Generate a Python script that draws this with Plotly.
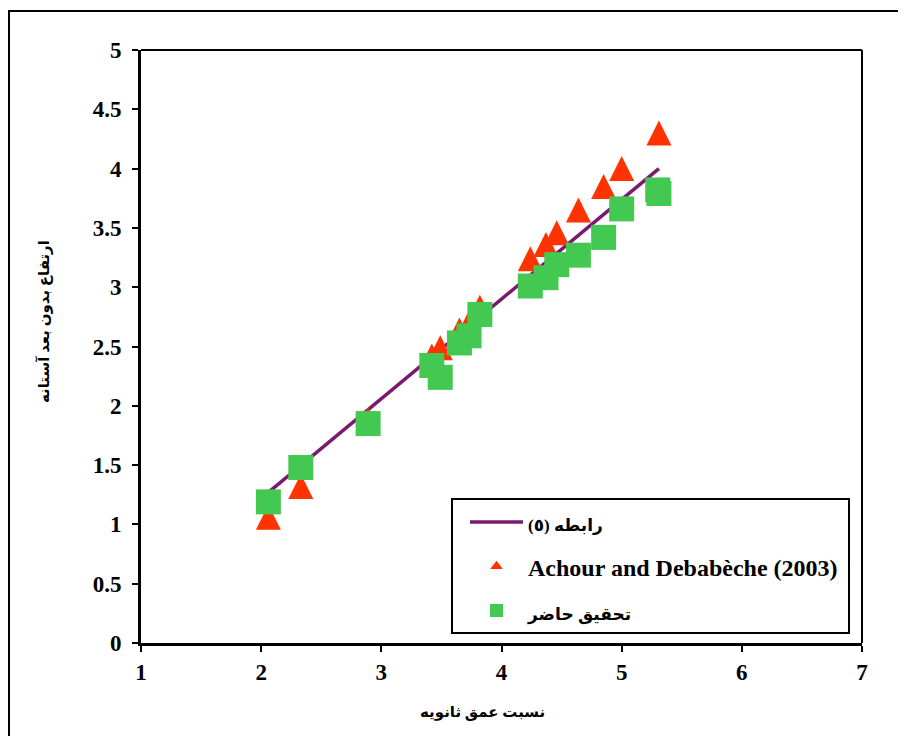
import plotly.graph_objects as go

# ---- data ----
rel_x = [2.06, 5.31]
rel_y = [1.27, 4.00]

achour_x = [2.06, 2.33, 2.89, 3.42, 3.49, 3.65, 3.73, 3.82, 4.24, 4.37, 4.46, 4.64, 4.85, 5.00, 5.31]
achour_y = [1.06, 1.32, 1.88, 2.42, 2.49, 2.64, 2.70, 2.83, 3.24, 3.36, 3.46, 3.65, 3.85, 4.00, 4.30]

present_x = [2.06, 2.33, 2.89, 3.42, 3.49, 3.65, 3.73, 3.82, 4.24, 4.37, 4.46, 4.64, 4.85, 5.00, 5.30, 5.31]
present_y = [1.19, 1.48, 1.85, 2.34, 2.24, 2.53, 2.59, 2.77, 3.01, 3.08, 3.19, 3.27, 3.42, 3.66, 3.82, 3.79]

x_ticks = [1, 2, 3, 4, 5, 6, 7]
y_ticks = [0, 0.5, 1, 1.5, 2, 2.5, 3, 3.5, 4, 4.5, 5]

name_rel = "رابطه (٥)"
name_achour = "Achour and Debabèche (2003)"
name_present = "تحقیق حاضر"
x_title = "نسبت عمق ثانویه"
y_title = "ارتفاع بدون بعد آستانه"

LINE_C = "#7A1A6E"
TRI_C = "#FF3300"
SQ_C = "#43C951"

OFF = 8  # page body margin
W, H = 906 - OFF, 736 - OFF
# plot area in screen pixels
AX_L, AX_R, AX_T, AX_B = 141, 862, 50, 643
ML, MT = AX_L - OFF, AX_T - OFF
MR, MB = W - (AX_R - OFF), H - (AX_B - OFF)
PW, PH = AX_R - AX_L, AX_B - AX_T


def px_x(p):
    return (p - AX_L) / PW


def px_y(p):
    return (AX_B - p) / PH


def arabic(s, size):
    return '<span style="font-size:%dpx">%s</span>' % (size, s)


fig = go.Figure()

fig.add_trace(go.Scatter(x=rel_x, y=rel_y, mode="lines", name=arabic(name_rel, 17),
                         line=dict(color=LINE_C, width=3.5), showlegend=True,
                         legendgroup="a"))
fig.add_trace(go.Scatter(x=achour_x, y=achour_y, mode="markers", name=name_achour,
                         marker=dict(symbol="arrow-down", angle=180, standoff=12.5,
                                     size=25, color=TRI_C, line=dict(width=0)),
                         showlegend=False))
fig.add_trace(go.Scatter(x=present_x, y=present_y, mode="markers", name=name_present,
                         marker=dict(symbol="square", size=25, color=SQ_C, line=dict(width=0)),
                         showlegend=False))
# legend entries
fig.add_trace(go.Scatter(x=[None], y=[None], mode="markers", name=name_achour,
                         marker=dict(symbol="triangle-up", size=11, color=TRI_C, line=dict(width=0)),
                         legendgroup="b"))
fig.add_trace(go.Scatter(x=[None], y=[None], mode="markers", name=arabic(name_present, 17),
                         marker=dict(symbol="square", size=13, color=SQ_C, line=dict(width=0)),
                         legendgroup="c"))

tickfont = dict(family="Liberation Serif, Times New Roman, serif", size=23, color="black", weight="bold")

fig.update_xaxes(range=[1, 7], tickvals=x_ticks, ticks="outside", ticklen=6, tickwidth=2,
                 tickcolor="black", showline=True, linecolor="black", linewidth=3,
                 showgrid=False, zeroline=False, tickfont=tickfont, ticklabelstandoff=0)
fig.update_yaxes(range=[0, 5], tickvals=y_ticks, ticks="outside", ticklen=6, tickwidth=2,
                 tickcolor="black", showline=True, linecolor="black", linewidth=3,
                 showgrid=False, zeroline=False, tickfont=tickfont, ticklabelstandoff=6)

shapes = [
    # top and right frame of plot area
    dict(type="line", xref="paper", yref="paper", x0=0, x1=1, y0=1, y1=1,
         line=dict(color="black", width=2)),
    dict(type="line", xref="paper", yref="paper", x0=1, x1=1, y0=0, y1=1,
         line=dict(color="black", width=2)),
    # outer frame
    dict(type="rect", xref="paper", yref="paper", x0=px_x(9), x1=px_x(915),
         y0=px_y(760), y1=px_y(11), line=dict(color="black", width=2)),
    # legend box
    dict(type="rect", xref="paper", yref="paper", x0=px_x(452), x1=px_x(849),
         y0=px_y(633), y1=px_y(499), line=dict(color="black", width=2),
         fillcolor="white", layer="above"),
]

annotations = [
    dict(text=x_title, xref="paper", yref="paper", x=px_x(482), y=px_y(712),
         showarrow=False, xanchor="center", yanchor="middle",
         font=dict(family="Liberation Serif, DejaVu Sans", size=15, color="black", weight="bold")),
    dict(text=y_title, xref="paper", yref="paper", x=px_x(44), y=px_y(322),
         showarrow=False, xanchor="center", yanchor="middle", textangle=-90,
         font=dict(family="Liberation Serif, DejaVu Sans", size=15, color="black", weight="bold")),
]

fig.update_layout(
    width=W, height=H,
    margin=dict(l=ML, r=MR, t=MT, b=MB, pad=0),
    paper_bgcolor="white", plot_bgcolor="white",
    shapes=shapes, annotations=annotations,
    legend=dict(x=px_x(465), y=px_y(500), xanchor="left", yanchor="top",
                bgcolor="rgba(0,0,0,0)", borderwidth=0, itemwidth=53,
                traceorder="grouped", tracegroupgap=10,
                font=dict(family="Liberation Serif, DejaVu Sans, serif", size=24,
                          color="black", weight="bold")),
    showlegend=True,
)

fig.write_html("out.html")
